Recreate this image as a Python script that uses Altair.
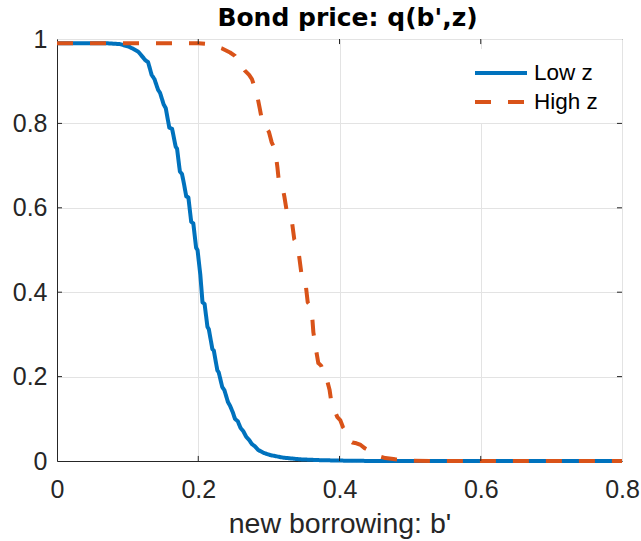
import altair as alt
import pandas as pd

# ---- data ----
series_names = ["Low z", "High z"]
series_colors = ["#0072BD", "#D95319"]

low_b = [0.0, 0.07, 0.089, 0.103, 0.115, 0.125, 0.129, 0.134, 0.138, 0.143, 0.146,
         0.151, 0.154, 0.159, 0.163, 0.168, 0.170, 0.174, 0.177, 0.180, 0.183, 0.186,
         0.190, 0.193, 0.197, 0.199, 0.203, 0.206, 0.209, 0.213, 0.215, 0.220, 0.222,
         0.227, 0.229, 0.234, 0.237, 0.242, 0.245, 0.249, 0.252, 0.256, 0.260, 0.264,
         0.268, 0.272, 0.276, 0.280, 0.285, 0.293, 0.302, 0.320, 0.344, 0.372, 0.400,
         0.450, 0.800]
low_q = [0.99, 0.99, 0.988, 0.981, 0.970, 0.950, 0.945, 0.915, 0.905, 0.880, 0.872,
         0.845, 0.836, 0.790, 0.787, 0.745, 0.740, 0.686, 0.680, 0.655, 0.627, 0.625,
         0.567, 0.563, 0.505, 0.500, 0.440, 0.376, 0.372, 0.318, 0.312, 0.265, 0.262,
         0.215, 0.210, 0.175, 0.168, 0.140, 0.131, 0.115, 0.100, 0.094, 0.078, 0.070,
         0.057, 0.050, 0.040, 0.035, 0.026, 0.019, 0.014, 0.008, 0.004, 0.002, 0.001,
         0.0, 0.0]

high_b = [0.0, 0.200, 0.215, 0.233, 0.245, 0.252, 0.262, 0.266, 0.272, 0.276, 0.283,
          0.287, 0.290, 0.293, 0.296, 0.300, 0.304, 0.309, 0.312, 0.314, 0.318, 0.322,
          0.325, 0.329, 0.333, 0.336, 0.340, 0.342, 0.346, 0.349, 0.352, 0.355, 0.358,
          0.361, 0.363, 0.366, 0.370, 0.374, 0.378, 0.381, 0.386, 0.389, 0.393, 0.397,
          0.401, 0.405, 0.409, 0.413, 0.418, 0.424, 0.430, 0.436, 0.445, 0.455, 0.465,
          0.479, 0.500, 0.530, 0.800]
high_q = [0.99, 0.99, 0.988, 0.978, 0.968, 0.960, 0.935, 0.925, 0.915, 0.905, 0.870,
          0.836, 0.810, 0.795, 0.790, 0.780, 0.755, 0.737, 0.697, 0.665, 0.660, 0.626,
          0.595, 0.590, 0.563, 0.525, 0.515, 0.496, 0.445, 0.438, 0.420, 0.376, 0.370,
          0.350, 0.305, 0.271, 0.232, 0.226, 0.206, 0.200, 0.168, 0.133, 0.120, 0.104,
          0.097, 0.080, 0.070, 0.050, 0.044, 0.042, 0.038, 0.030, 0.022, 0.012, 0.007,
          0.004, 0.001, 0.0, 0.0]

x_ticks = [0, 0.2, 0.4, 0.6, 0.8]
y_ticks = [0, 0.2, 0.4, 0.6, 0.8, 1]
x_inner_ticks = [0.2, 0.4, 0.6]
y_inner_ticks = [0.2, 0.4, 0.6, 0.8]

# ---- tables ----
df = pd.DataFrame({
    "b": low_b + high_b,
    "q": low_q + high_q,
    "series": [series_names[0]] * len(low_b) + [series_names[1]] * len(high_b),
})
xt = pd.DataFrame({"v": x_inner_ticks})
yt = pd.DataFrame({"v": y_inner_ticks})

FONT = "Liberation Sans"
AX = "#262626"

xs = alt.Scale(domain=[0, 0.8], nice=False, zero=False)
ys = alt.Scale(domain=[0, 1], nice=False, zero=False)

legend = alt.Legend(
    title=None, orient="none", legendX=420, legendY=10,
    fillColor="white", padding=9, symbolType="M-2,0H2", symbolSize=676,
    symbolStrokeWidth=4, labelFont=FONT, labelFontSize=22.5, labelColor="black",
    labelOffset=18, rowPadding=2,
)

axis_common = dict(labelFont=FONT, labelFontSize=25, labelColor=AX, domainColor=AX,
                   domainWidth=1, ticks=False, grid=True, gridColor="#e3e3e3",
                   gridWidth=1, format="~g")

lines = alt.Chart(df).mark_line(strokeWidth=4, strokeJoin="round").encode(
    x=alt.X("b:Q", scale=xs, axis=alt.Axis(
        values=x_ticks, title="new borrowing: b'", labelFlush=False,
        labelBaseline="alphabetic", labelPadding=36, titleY=71,
        titleBaseline="alphabetic", titleFontSize=28.5, titleFont=FONT,
        titleFontWeight="normal", titleColor=AX, **axis_common)),
    y=alt.Y("q:Q", scale=ys, axis=alt.Axis(values=y_ticks, title=None,
                                            labelPadding=10, **axis_common)),
    color=alt.Color("series:N", scale=alt.Scale(domain=series_names, range=series_colors),
                    legend=legend),
    strokeDash=alt.StrokeDash("series:N", scale=alt.Scale(domain=series_names,
                                                          range=[[1, 0], [16, 17]]),
                              legend=legend),
)

tick_style = dict(color=AX, strokeWidth=1)
bottom_t = alt.Chart(xt).mark_rule(**tick_style).encode(
    x=alt.X("v:Q", scale=xs), y=alt.datum(0), y2=alt.datum(0.012))
top_t = alt.Chart(xt).mark_rule(**tick_style).encode(
    x=alt.X("v:Q", scale=xs), y=alt.datum(0.988), y2=alt.datum(1))
left_t = alt.Chart(yt).mark_rule(**tick_style).encode(
    y=alt.Y("v:Q", scale=ys), x=alt.datum(0), x2=alt.datum(0.0071))
right_t = alt.Chart(yt).mark_rule(**tick_style).encode(
    y=alt.Y("v:Q", scale=ys), x=alt.datum(0.7929), x2=alt.datum(0.8))

chart = alt.layer(lines, bottom_t, top_t, left_t, right_t).properties(
    width=565, height=422,
    title=alt.TitleParams(text="Bond price: q(b',z)", font="DejaVu Sans", fontSize=25,
                          fontWeight="bold", color="black", anchor="middle",
                          offset=0, baseline="bottom", dy=29, dx=8),
    autosize=alt.AutoSizeParams(type="none"),
    padding={"left": 57, "top": 39, "right": 19, "bottom": 80},
    background="white",
).configure_view(stroke=AX, strokeWidth=1)

chart.save("out.html", embed_options={"renderer": "svg", "actions": False})
